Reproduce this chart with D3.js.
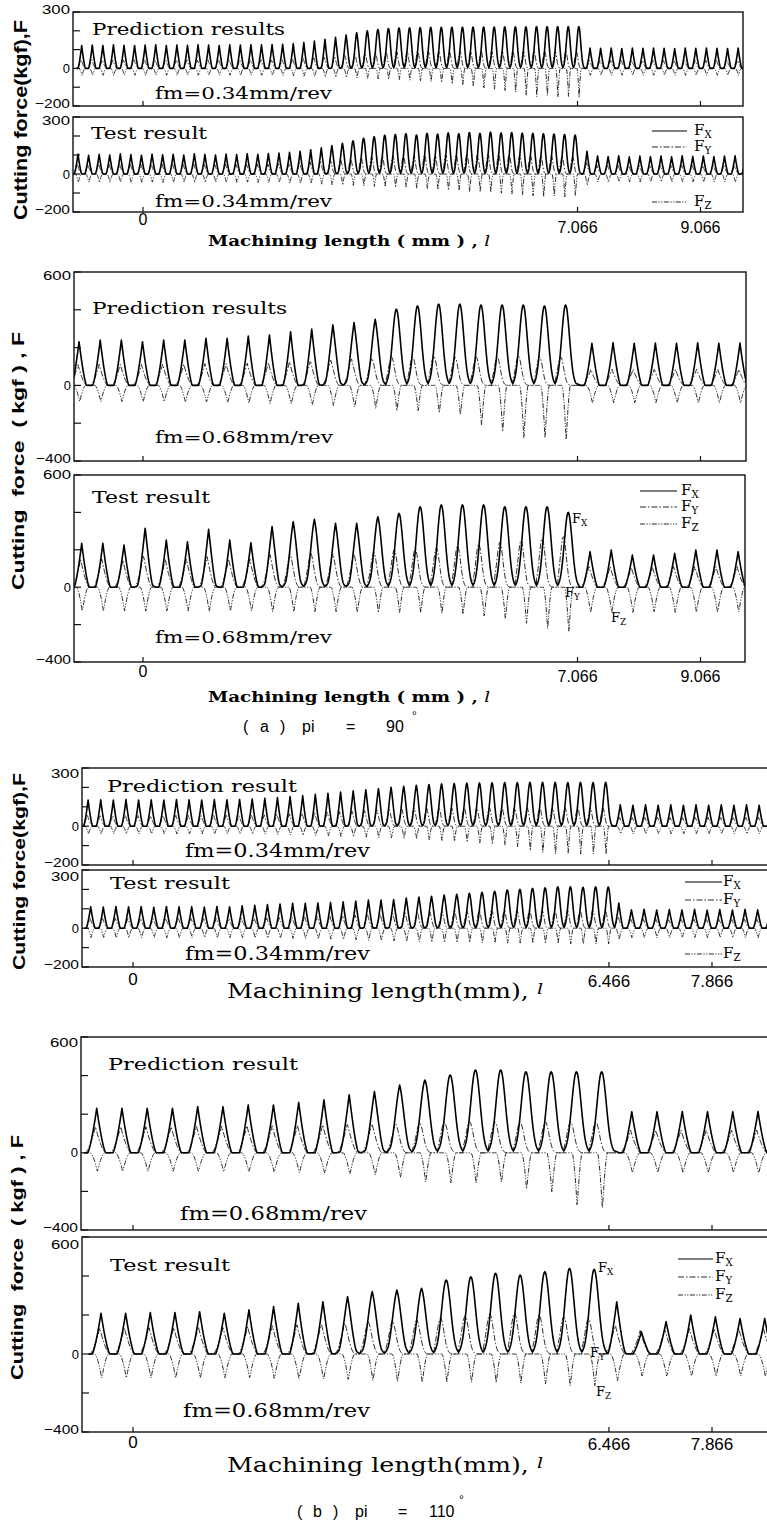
<!DOCTYPE html>
<html>
<head>
<meta charset="utf-8">
<script src="https://cdn.jsdelivr.net/npm/d3@7"></script>
<style>
  body { margin: 0; background: #fff; }
  svg { display: block; }
  text { white-space: pre; }
</style>
</head>
<body>
<svg id="chart" width="767" height="1523"></svg>
<script>
// tick labels
const aTicks = [0, 7.066, 9.066];
const bTicks = [0, 6.466, 7.866];
const yTicks34 = [-200, -100, 0, 100, 200, 300];
const yTicks68 = [-400, -200, 0, 200, 400, 600];
const yLabels34 = [300, 0, -200];
const yLabels68 = [600, 0, -400];

// peak force per cut (kgf), one value per cycle
// (a) pi = 90, fm = 0.34
const a34PredFx = [122,124,122,125,123,122,124,125,122,124,123,125,124,122,125,124,126,125,127,128,
  132,138,145,155,165,178,190,200,207,212,
  215,216,217,218,218,219,219,220,220,220,221,221,221,222,222,222,222,222,
  108,107,108,106,108,107,108,107,106,108,107,108,107,106,108,107];
const a34PredFy = [45,46,45,44,45,46,45,44,45,46,45,44,45,46,45,44,45,46,45,46,
  48,52,56,60,65,70,75,80,85,88,
  90,90,91,90,92,90,91,90,92,90,91,90,92,90,91,90,92,90,
  42,42,43,42,42,43,42,42,43,42,42,43,42,42,43,42];
const a34PredFz = [-38,-37,-38,-38,-37,-38,-38,-37,-38,-38,-37,-38,-38,-37,-38,-38,-37,-38,-38,-38,
  -40,-42,-44,-46,-48,-50,-52,-55,-58,-60,
  -62,-65,-68,-72,-78,-85,-92,-100,-108,-115,-122,-130,-150,-156,-150,-158,-155,-160,
  -38,-37,-38,-38,-37,-38,-38,-37,-38,-38,-37,-38,-38,-37,-38,-38];
const a34TestFx = [105,98,104,100,106,102,99,105,101,104,100,106,103,100,105,102,107,104,108,110,
  114,120,128,138,150,162,175,188,196,204,
  208,212,205,214,210,216,212,218,214,220,216,218,215,214,212,210,208,205,
  120,95,92,96,90,94,92,95,91,96,93,95,92,94,96,93];
const a34TestFy = [50,48,52,50,49,51,50,48,52,50,49,51,50,48,52,50,49,51,52,54,
  56,60,64,68,72,76,80,85,90,94,
  96,98,95,100,98,102,100,104,100,105,102,104,100,98,96,95,94,92,
  60,45,44,46,45,44,46,45,44,46,45,44,46,45,44,46];
const a34TestFz = [-45,-44,-46,-45,-44,-46,-45,-44,-46,-45,-44,-46,-45,-44,-46,-45,-44,-46,-45,-46,
  -48,-50,-52,-55,-58,-60,-62,-65,-68,-70,
  -72,-75,-78,-80,-85,-88,-90,-95,-98,-100,-105,-110,-115,-120,-125,-120,-125,-118,
  -60,-42,-43,-42,-42,-43,-42,-42,-43,-42,-42,-43,-42,-42,-43,-42];

// (a) pi = 90, fm = 0.68
const a68PredFx = [231,240,240,231,240,240,249,249,261,267,284,298,320,332,350,403,420,430,430,425,425,425,420,425,
  223,226,223,224,223,225,223,224];
const a68PredFy = [110,112,112,110,112,112,115,115,118,120,125,130,135,140,145,150,150,155,150,150,150,155,150,150,
  85,85,86,85,85,86,85,85];
const a68PredFz = [-86,-88,-88,-88,-88,-90,-90,-92,-95,-98,-100,-105,-110,-118,-125,-139,-139,-150,-160,-218,-252,-288,-288,-298,
  -94,-94,-95,-94,-94,-95,-94,-94];
const a68TestFx = [235,235,226,315,252,243,310,252,238,324,350,363,342,342,377,395,430,440,440,440,430,430,430,400,
  190,199,172,172,181,199,199,190];
const a68TestFy = [150,150,145,170,150,150,165,150,150,175,180,185,180,180,190,200,205,210,220,230,240,250,260,270,
  110,110,105,105,110,110,110,110];
const a68TestFz = [-130,-128,-130,-132,-130,-130,-132,-130,-130,-135,-135,-135,-135,-138,-140,-140,-140,-145,-150,-160,-175,-200,-229,-245,
  -138,-135,-138,-135,-138,-135,-138,-135];

// (b) pi = 110, fm = 0.34
const b34PredFx = [135,136,135,137,135,136,135,137,136,135,137,136,138,140,
  144,148,153,158,164,170,176,182,188,194,200,206,211,215,
  218,220,222,223,224,225,225,226,226,226,225,226,225,226,
  110,108,110,108,110,108,110,108,110,108,110,108,110];
const b34PredFy = [55,54,55,56,55,54,55,56,55,54,55,56,55,56,
  58,61,64,67,70,73,76,79,82,85,88,90,92,94,
  95,95,96,95,95,96,95,95,96,95,95,96,95,95,
  45,44,45,46,45,44,45,46,45,44,45,46,45];
const b34PredFz = [-40,-41,-40,-40,-41,-40,-40,-41,-40,-40,-41,-40,-40,-41,
  -42,-44,-46,-48,-50,-52,-54,-56,-58,-60,-62,-65,-68,-72,
  -76,-80,-85,-90,-95,-100,-110,-130,-140,-148,-145,-150,-148,-150,
  -40,-41,-40,-40,-41,-40,-40,-41,-40,-40,-41,-40,-40];
const b34TestFx = [111,109,112,110,111,108,112,110,111,109,112,110,115,118,
  122,125,128,128,130,132,136,140,145,145,148,155,160,165,
  171,175,180,185,190,197,200,205,208,213,213,210,213,212,
  130,95,98,93,96,94,97,93,96,94,97,95,96];
const b34TestFy = [50,49,51,50,50,49,51,50,50,49,51,50,50,51,
  52,54,56,58,60,63,66,69,72,75,78,81,84,87,
  88,89,90,90,91,90,92,90,91,90,92,90,91,90,
  60,45,46,45,44,45,46,45,44,45,46,45,44];
const b34TestFz = [-50,-49,-51,-50,-50,-49,-51,-50,-50,-49,-51,-50,-50,-51,
  -52,-53,-54,-55,-56,-58,-60,-62,-64,-66,-68,-70,-72,-74,
  -75,-76,-76,-78,-78,-80,-80,-80,-82,-82,-84,-84,-85,-85,
  -60,-50,-49,-51,-50,-50,-49,-51,-50,-50,-49,-51,-50];

// (b) pi = 110, fm = 0.68
const b68PredFx = [230,230,230,230,239,239,248,248,261,274,300,317,351,377,403,429,429,420,420,420,420,
  213,213,214,213,213,214];
const b68PredFy = [135,135,135,135,138,138,140,140,142,145,148,150,152,155,158,160,160,160,160,160,160,
  117,117,118,117,117,118];
const b68PredFz = [-98,-98,-98,-98,-98,-100,-100,-102,-105,-108,-112,-118,-131,-157,-162,-162,-157,-193,-210,-280,-296,
  -105,-105,-106,-105,-105,-106];
const b68TestFx = [209,209,212,212,217,209,226,243,260,268,294,320,328,337,379,396,414,405,422,439,434,
  268,114,166,200,191,182,182];
const b68TestFy = [133,133,135,135,138,135,140,145,150,155,160,168,172,175,185,195,205,209,200,190,180,
  150,120,125,130,130,130,130];
const b68TestFz = [-125,-125,-125,-125,-125,-125,-125,-128,-130,-132,-135,-140,-145,-150,-150,-150,-152,-155,-160,-168,-168,
  -140,-116,-116,-116,-116,-116,-116];

const svg = d3.select('#chart');
const defs = svg.append('defs');

const xa = d3.scaleLinear().domain([0, 9.066]).range([143, 700.5]);
const xb = d3.scaleLinear().domain([0, 7.866]).range([133, 712]);

const SAMPLES = 40;
const SERIF = '"DejaVu Serif", serif';
const SANS = '"Liberation Sans", Arial, sans-serif';

// one cut: sharp spike for the light cuts, rounded hump for the heavy ones
function spike(t, w, pw) {
  const u = 1 - Math.abs(t) / w;
  return u > 0 ? Math.pow(u, pw) : 0;
}
function hump(t, w) {
  return Math.exp(-(t / w) * (t / w));
}
const shapes = {
  fx: (t, b) => (1 - b) * spike(t, 0.36, 1.4) + b * hump(t, 0.26),
  fy: (t, b) => {
    const c = -0.05 - 0.18 * b;
    return (1 - b) * spike(t - c, 0.4, 1.5) + b * hump(t - c, 0.2);
  },
  fz: (t, b) => spike(t - 0.03, 0.28 - 0.08 * b, 1.6),
};
const styles = {
  fx: {color: '#000', width: 1.6, dash: null},
  fy: {color: '#2a2a2a', width: 1, dash: '6 2 1.5 2'},
  fz: {color: '#2a2a2a', width: 1, dash: '5 1.5 1.2 1.5 1.2 1.5'},
};

const panels = [
  {top: 12, bottom: 106, left: 73, right: 743, x: xa, ticks: aTicks, y: [-200, 300], yTicks: yTicks34, yLabels: yLabels34,
    fx: a34PredFx, fy: a34PredFy, fz: a34PredFz, l0: -0.997, pitch: 0.172, nBig: 48, lAfter: 7.27, topDy: 2,
    title: ['Prediction results', 92, 34.5, 193, 16], feed: ['fm=0.34mm/rev', 155, 98.5, 177, 17]},
  {top: 117, bottom: 212, left: 73, right: 743, x: xa, ticks: aTicks, y: [-200, 300], yTicks: yTicks34, yLabels: yLabels34,
    fx: a34TestFx, fy: a34TestFy, fz: a34TestFz, l0: -1.057, pitch: 0.172, nBig: 48, lAfter: 7.22, topDy: 8,
    title: ['Test result', 91, 138.5, 116, 16], feed: ['fm=0.34mm/rev', 155, 207, 177, 17],
    xLabels: {zero: 225, rest: 233, size: 16},
    legend: {x1: 652, x2: 687, tx: 694, ys: [131, 147, 202]}},
  {top: 272, bottom: 461, left: 74, right: 746, x: xa, ticks: aTicks, y: [-400, 600], yTicks: yTicks68, yLabels: yLabels68,
    fx: a68PredFx, fy: a68PredFy, fz: a68PredFz, l0: -1.04, pitch: 0.344, nBig: 24, lAfter: 7.30, topDy: 8,
    title: ['Prediction results', 92, 314, 195, 16], feed: ['fm=0.68mm/rev', 155, 443.3, 178, 17]},
  {top: 475, bottom: 662, left: 74, right: 745, x: xa, ticks: aTicks, y: [-400, 600], yTicks: yTicks68, yLabels: yLabels68,
    fx: a68TestFx, fy: a68TestFy, fz: a68TestFz, l0: -0.997, pitch: 0.344, nBig: 24, lAfter: 7.27, topDy: 4,
    title: ['Test result', 92, 503.3, 118, 16], feed: ['fm=0.68mm/rev', 155, 643.3, 177, 17],
    xLabels: {zero: 677, rest: 682, size: 16},
    legend: {x1: 640, x2: 677, tx: 681, ys: [491, 507, 524]},
    notes: [['X', 572, 523], ['Y', 565, 597], ['Z', 611, 622]]},
  {top: 768, bottom: 865, left: 82, right: 770, x: xb, ticks: bTicks, y: [-200, 300], yTicks: yTicks34, yLabels: yLabels34,
    fx: b34PredFx, fy: b34PredFy, fz: b34PredFz, l0: -0.61, pitch: 0.1715, nBig: 42, lAfter: 6.62, topDy: 10,
    title: ['Prediction result', 107, 791.7, 190, 17], feed: ['fm=0.34mm/rev', 185, 856.7, 185, 18]},
  {top: 870, bottom: 967, left: 82, right: 770, x: xb, ticks: bTicks, y: [-200, 300], yTicks: yTicks34, yLabels: yLabels34,
    fx: b34TestFx, fy: b34TestFy, fz: b34TestFz, l0: -0.575, pitch: 0.1715, nBig: 42, lAfter: 6.60, topDy: 11,
    title: ['Test result', 110, 889.3, 120, 17], feed: ['fm=0.34mm/rev', 185, 960, 185, 18],
    xLabels: {zero: 985, rest: 987, size: 17},
    legend: {x1: 685, x2: 722, tx: 723, ys: [882, 900, 954]}},
  {top: 1037, bottom: 1230, left: 81, right: 770, x: xb, ticks: bTicks, y: [-400, 600], yTicks: yTicks68, yLabels: yLabels68,
    fx: b68PredFx, fy: b68PredFy, fz: b68PredFz, l0: -0.493, pitch: 0.343, nBig: 21, lAfter: 6.776, topDy: 10,
    title: ['Prediction result', 108, 1070, 190, 17], feed: ['fm=0.68mm/rev', 180, 1220, 187, 18]},
  {top: 1237, bottom: 1432, left: 82, right: 770, x: xb, ticks: bTicks, y: [-400, 600], yTicks: yTicks68, yLabels: yLabels68,
    fx: b68TestFx, fy: b68TestFy, fz: b68TestFz, l0: -0.435, pitch: 0.335, nBig: 21, lAfter: 6.572, topDy: 12,
    title: ['Test result', 110, 1270.7, 120, 17], feed: ['fm=0.68mm/rev', 183, 1416.7, 187, 18],
    xLabels: {zero: 1448, rest: 1450, size: 17},
    legend: {x1: 678, x2: 713, tx: 715, ys: [1259, 1277, 1295]},
    notes: [['X', 598, 1272], ['Y', 590, 1357], ['Z', 596, 1396]]},
];

function cyclePoints(p, amps, shape) {
  const pts = [];
  const base = p.fx[0];
  let lastL = -Infinity;
  amps.forEach((a, i) => {
    const c = i < p.nBig ? p.l0 + i * p.pitch : p.lAfter + (i - p.nBig) * p.pitch;
    const b = Math.max(0, Math.min(1, (p.fx[i] / base - 1.25) / 0.45));
    for (let k = 0; k <= SAMPLES; k++) {
      const t = -0.5 + k / SAMPLES;
      const l = c + t * p.pitch;
      if (l <= lastL) continue;
      pts.push([l, a * shape(t, b)]);
      lastL = l;
    }
  });
  return pts;
}

function forceLabel(g, x, y, sub, size) {
  const t = g.append('text').attr('x', x).attr('y', y)
    .attr('font-family', SERIF).attr('font-size', size).attr('fill', '#000');
  t.append('tspan').text('F');
  t.append('tspan').attr('dy', 3).attr('font-size', size * 0.68).text(sub);
}

panels.forEach((p, idx) => {
  const g = svg.append('g');
  const x = p.x;
  const y = d3.scaleLinear().domain(p.y).range([p.bottom, p.top]);

  const clipId = 'clip' + idx;
  defs.append('clipPath').attr('id', clipId)
    .append('rect')
    .attr('x', p.left).attr('y', p.top)
    .attr('width', p.right - p.left).attr('height', p.bottom - p.top);

  const line = d3.line().x((d) => x(d[0])).y((d) => y(d[1]));
  const plot = g.append('g').attr('clip-path', `url(#${clipId})`);
  ['fz', 'fy', 'fx'].forEach((key) => {
    const st = styles[key];
    plot.append('path')
      .datum(cyclePoints(p, p[key], shapes[key]))
      .attr('d', line)
      .attr('fill', 'none')
      .attr('stroke', st.color)
      .attr('stroke-width', st.width)
      .attr('stroke-dasharray', st.dash)
      .attr('stroke-linejoin', 'round');
  });

  // frame
  g.append('rect')
    .attr('x', p.left).attr('y', p.top)
    .attr('width', p.right - p.left).attr('height', p.bottom - p.top)
    .attr('fill', 'none').attr('stroke', '#111').attr('stroke-width', 1.4);

  // inner y ticks and labels
  g.selectAll('.yt').data(p.yTicks).enter().append('line')
    .attr('x1', p.left).attr('x2', p.left + 7)
    .attr('y1', (d) => y(d)).attr('y2', (d) => y(d))
    .attr('stroke', '#111').attr('stroke-width', 1.2);
  const [yLo, yHi] = p.y;
  g.selectAll('.yl').data(p.yLabels).enter().append('text')
    .attr('x', p.left - 3)
    .attr('y', (d) => d === yHi ? p.top + p.topDy : d === yLo ? p.bottom + 2 : y(d) + 4.5)
    .attr('text-anchor', 'end')
    .attr('font-family', SANS).attr('font-size', 13)
    .attr('textLength', (d) => d === 0 ? null : d < 0 ? 35 : 28)
    .attr('lengthAdjust', 'spacingAndGlyphs')
    .text((d) => d < 0 ? '\u2212' + Math.abs(d) : d);

  // x ticks
  g.selectAll('.xt').data(p.ticks).enter().append('line')
    .attr('x1', (d) => x(d)).attr('x2', (d) => x(d))
    .attr('y1', p.bottom).attr('y2', p.bottom - 5)
    .attr('stroke', '#111').attr('stroke-width', 1.2);
  if (p.xLabels) {
    g.selectAll('.xl').data(p.ticks).enter().append('text')
      .attr('x', (d) => x(d))
      .attr('y', (d) => d === 0 ? p.xLabels.zero : p.xLabels.rest)
      .attr('text-anchor', 'middle')
      .attr('font-family', SANS).attr('font-size', p.xLabels.size)
      .text((d) => d);
  }

  // panel texts
  [p.title, p.feed].forEach(([str, tx, ty, w, size]) => {
    g.append('text').attr('x', tx).attr('y', ty)
      .attr('font-family', SERIF).attr('font-size', size)
      .attr('textLength', w).attr('lengthAdjust', 'spacingAndGlyphs')
      .text(str);
  });

  if (p.legend) {
    const L = p.legend;
    ['fx', 'fy', 'fz'].forEach((key, i) => {
      const st = styles[key];
      g.append('line')
        .attr('x1', L.x1).attr('x2', L.x2).attr('y1', L.ys[i]).attr('y2', L.ys[i])
        .attr('stroke', st.color).attr('stroke-width', 1.1)
        .attr('stroke-dasharray', st.dash);
      forceLabel(g, L.tx, L.ys[i] + 4, ['X', 'Y', 'Z'][i], 15);
    });
  }
  if (p.notes) {
    p.notes.forEach(([sub, nx, ny]) => forceLabel(g, nx, ny, sub, 13));
  }
});

// axis titles
function addText(str, tx, ty, opts) {
  const t = svg.append('text').attr('x', tx).attr('y', ty)
    .attr('font-family', opts.family).attr('font-size', opts.size)
    .attr('font-weight', opts.weight || 'normal')
    .attr('text-anchor', opts.anchor || 'start');
  if (opts.width) t.attr('textLength', opts.width).attr('lengthAdjust', opts.adjust || 'spacingAndGlyphs');
  if (opts.rotate) t.attr('transform', `rotate(-90, ${tx}, ${ty})`);
  return t;
}

[246, 701.7].forEach((by) => {
  const t = addText('', 208, by, {family: SERIF, size: 14, weight: 'bold', width: 282});
  t.append('tspan').text('Machining length ( mm ) , ');
  t.append('tspan').attr('font-style', 'italic').attr('font-weight', 'normal').text('l');
});
[998, 1471.7].forEach((by) => {
  const t = addText('', 227, by, {family: SERIF, size: 20, width: 316});
  t.append('tspan').text('Machining length(mm), ');
  t.append('tspan').attr('font-style', 'italic').attr('font-size', 15).attr('dy', -4).text('l');
});

// sub-figure captions, token by token as spaced in the print
function caption(tokens, by, degX, degY) {
  const t = svg.append('text').attr('y', by)
    .attr('font-family', SANS).attr('font-size', 16);
  tokens.forEach(([str, tx]) => t.append('tspan').attr('x', tx).attr('y', by).text(str));
  t.append('tspan').attr('x', degX).attr('y', degY).attr('font-size', 12).text('\u00b0');
}
caption([['(', 243], ['a', 260], [')', 280], ['pi', 302], ['=', 346], ['90', 386]], 731.7, 412, 720);
caption([['(', 297], ['b', 313], [')', 333], ['pi', 355], ['=', 398], ['110', 429]], 1516.7, 459, 1504);

// rotated y titles: [text, baseline x, start y (bottom), length, size]
const yTitles = [
  ['Cutting force(kgf),F', 27, 220, 200, 18],
  ['Cutting  force  ( kgf ) , F', 24, 590, 258, 17],
  ['Cutting force(kgf),F', 25, 970, 197, 17],
  ['Cutting  force  ( kgf ) , F', 23, 1380, 245, 17],
];
yTitles.forEach(([str, tx, ty, w, size]) => {
  addText(str, tx, ty, {family: SANS, size: size, weight: 'bold', width: w, rotate: true}).text(str);
});
</script>
</body>
</html>
